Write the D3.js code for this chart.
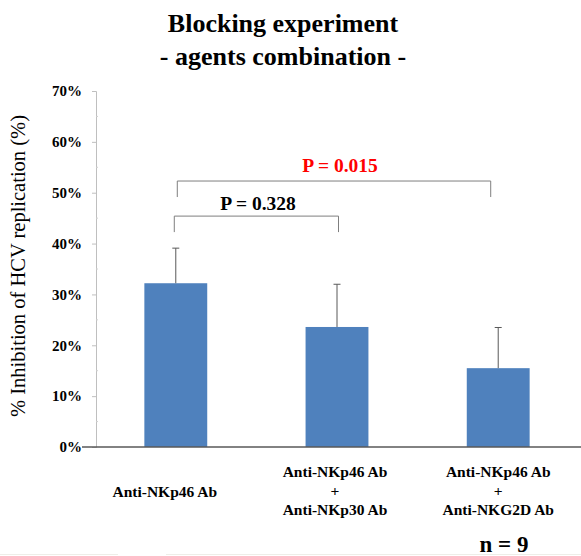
<!DOCTYPE html>
<html>
<head>
<meta charset="utf-8">
<script src="https://cdn.jsdelivr.net/npm/d3@7"></script>
<style>
  body { margin: 0; background: #fff; }
  text { font-family: "Liberation Serif", "Times New Roman", serif; }
</style>
</head>
<body>
<svg id="chart" width="581" height="556"></svg>
<script>
var categories = ['A', 'B', 'C'];
var labels = [
    ['Anti-NKp46 Ab'],
    ['Anti-NKp46 Ab', '+', 'Anti-NKp30 Ab'],
    ['Anti-NKp46 Ab', '+', 'Anti-NKG2D Ab']
];
var means = [32.2, 23.6, 15.5];
var errors = [6.9, 8.4, 8.0];
var yTicks = [0, 10, 20, 30, 40, 50, 60, 70];
var minorTicks = [5, 15, 25, 35, 45, 55, 65];
var comparisons = [
    {from: 0, to: 1, level: 45.4, text: 'P = 0.328', color: '#000'},
    {from: 0, to: 2, level: 52.3, text: 'P = 0.015', color: '#ff0000'}
];

var svg = d3.select('#chart');
var axisX = 96, plotTop = 91, plotBottom = 447;

var x = d3.scaleBand().domain(categories).range([96, 578]).paddingInner(0.61).paddingOuter(0.3);
var y = d3.scaleLinear().domain([0, 70]).range([plotBottom, plotTop]);
function center(i) { return x(categories[i]) + x.bandwidth() / 2; }

// title
svg.append('text').attr('x', 283).attr('y', 32).attr('text-anchor', 'middle')
    .style('font-size', '26px').style('font-weight', 'bold').text('Blocking experiment');
svg.append('text').attr('x', 283).attr('y', 65).attr('text-anchor', 'middle')
    .style('font-size', '26px').style('font-weight', 'bold').text('- agents combination -');

// y axis
var yAxis = d3.axisLeft(y).tickValues(yTicks).tickSize(4).tickFormat(function(d) { return d + '%'; });
var ga = svg.append('g').attr('transform', 'translate(' + axisX + ',0)').call(yAxis);
ga.select('.domain').attr('stroke', '#bfbfbf');
ga.selectAll('.tick line').attr('stroke', '#bfbfbf');
ga.selectAll('.tick text').attr('x', -14).attr('dy', '0.32em').attr('fill', '#000')
    .style('font-size', '15px').style('font-weight', 'bold').style('font-family', '"Liberation Serif", serif');

svg.append('g').selectAll('line').data(minorTicks).join('line')
    .attr('x1', axisX).attr('x2', axisX + 2)
    .attr('y1', function(d) { return y(d); }).attr('y2', function(d) { return y(d); })
    .attr('stroke', '#d0d0d0');

svg.append('text')
    .attr('transform', 'translate(25,266) rotate(-90)')
    .attr('text-anchor', 'middle')
    .style('font-size', '20.5px')
    .text('% Inhibition of HCV replication (%)');

// bars
svg.append('g').selectAll('rect').data(means).join('rect')
    .attr('x', function(d, i) { return x(categories[i]); })
    .attr('width', x.bandwidth())
    .attr('y', function(d) { return y(d); })
    .attr('height', function(d) { return plotBottom - y(d); })
    .attr('fill', '#4f81bd');

// error bars (upper only)
var eb = svg.append('g').attr('stroke', '#595959').attr('stroke-width', 1);
means.forEach(function(m, i) {
    var cx = center(i);
    eb.append('line').attr('x1', cx).attr('x2', cx).attr('y1', y(m)).attr('y2', y(m + errors[i]));
    eb.append('line').attr('x1', cx - 3.5).attr('x2', cx + 3.5)
        .attr('y1', y(m + errors[i])).attr('y2', y(m + errors[i]));
});

// x axis line
svg.append('line').attr('x1', 82).attr('x2', 581).attr('y1', plotBottom).attr('y2', plotBottom)
    .attr('stroke', '#595959').attr('stroke-width', 1.5);

// category labels
var offsets = [-11, -2, 0];
labels.forEach(function(lines, i) {
    var cx = center(i) + offsets[i];
    var y0 = lines.length === 1 ? 497 : 477;
    lines.forEach(function(t, j) {
        svg.append('text').attr('x', cx).attr('y', y0 + j * 19)
            .attr('text-anchor', 'middle')
            .style('font-size', '15.5px').style('font-weight', 'bold')
            .text(t);
    });
});

// comparison brackets
var bracketDx = [[-1.5, 1.5], [1.5, -7.5]];
var textDy = [-6, -9];
comparisons.forEach(function(c, k) {
    var x1 = center(c.from) + bracketDx[k][0];
    var x2 = center(c.to) + bracketDx[k][1];
    var yl = y(c.level);
    svg.append('path')
        .attr('d', 'M' + x1 + ',' + (yl + 16) + 'V' + yl + 'H' + x2 + 'V' + (yl + 16))
        .attr('fill', 'none').attr('stroke', '#7f7f7f').attr('stroke-width', 1);
    svg.append('text').attr('x', k === 0 ? 258 : 340).attr('y', yl + textDy[k])
        .attr('text-anchor', 'middle')
        .style('font-size', '19.5px').style('font-weight', 'bold')
        .attr('fill', c.color).text(c.text);
});

svg.append('text').attr('x', 504).attr('y', 552).attr('text-anchor', 'middle')
    .style('font-size', '23px').style('font-weight', 'bold').text('n = 9');

svg.append('line').attr('x1', 0).attr('x2', 118).attr('y1', 554.5).attr('y2', 554.5).attr('stroke', '#eeeee8');
svg.append('line').attr('x1', 166).attr('x2', 581).attr('y1', 554.5).attr('y2', 554.5).attr('stroke', '#eeeee8');
</script>
</body>
</html>
